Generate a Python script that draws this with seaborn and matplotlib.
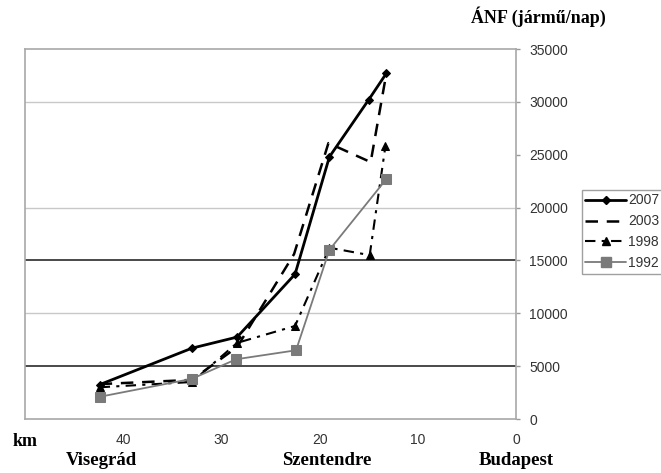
import matplotlib
matplotlib.use("Agg")
import matplotlib.pyplot as plt
import seaborn as sns
import pandas as pd
from matplotlib.lines import Line2D

# ---- data (km from Budapest, ÁNF vehicles/day) ----
km_2007 = [42.4, 33.0, 28.4, 22.5, 19.0, 15.0, 13.2]
anf_2007 = [3250, 6700, 7750, 13700, 24800, 30200, 32700]
km_2003 = [42.4, 33.0, 28.4, 22.6, 19.1, 14.8, 13.2]
anf_2003 = [3300, 3700, 6800, 15600, 26100, 24300, 32700]
km_1998 = [42.4, 33.0, 28.4, 22.5, 19.0, 14.9, 13.3]
anf_1998 = [3000, 3500, 7200, 8800, 16200, 15500, 25800]
km_1992 = [42.4, 33.0, 28.5, 22.4, 19.0, 13.2]
anf_1992 = [2100, 3800, 5650, 6500, 16000, 22700]

years = ["2007", "2003", "1998", "1992"]
x_ticks = [50, 40, 30, 20, 10, 0]
x_labels = ["km", "40", "30", "20", "10", "0"]
y_ticks = [0, 5000, 10000, 15000, 20000, 25000, 30000, 35000]
places = ["Visegrád", "Szentendre", "Budapest"]
place_km = [42.2, 19.3, 0.0]

sns.set_style("white")
plt.rcParams["font.family"] = ["Liberation Sans", "DejaVu Sans"]

fig = plt.figure(figsize=(6.61, 4.73), dpi=100)
ax = fig.add_axes([25 / 661, 1 - 419 / 473, (516 - 25) / 661, (419 - 49) / 473])

# reference lines
for y in [10000, 20000, 30000]:
    ax.axhline(y, color="#c8c8c8", lw=1.0, zorder=1)
for y in [5000, 15000]:
    ax.axhline(y, color="#3a3a3a", lw=1.3, zorder=1)

styles = {
    "2007": dict(color="black", lw=2.0, marker="D", markersize=4.5, linestyle="-"),
    "2003": dict(color="black", lw=1.8, marker=None, linestyle=(0, (5, 3.5))),
    "1998": dict(color="black", lw=1.5, marker="^", markersize=6, linestyle=(0, (5, 3, 1.5, 3))),
    "1992": dict(color="#7a7a7a", lw=1.3, marker="s", markersize=7, linestyle="-"),
}
series = {
    "2007": (km_2007, anf_2007),
    "2003": (km_2003, anf_2003),
    "1998": (km_1998, anf_1998),
    "1992": (km_1992, anf_1992),
}
handles = []
for yr in years:
    xs, ys = series[yr]
    df = pd.DataFrame({"km": xs, "anf": ys})
    st = styles[yr]
    sns.lineplot(data=df, x="km", y="anf", ax=ax, sort=False, zorder=3,
                 color=st["color"], lw=st["lw"], linestyle=st["linestyle"],
                 marker=st["marker"], markersize=st.get("markersize", 0),
                 markeredgecolor=st["color"], markerfacecolor=st["color"])
    handles.append(Line2D([], [], color=st["color"], lw=st["lw"], linestyle=st["linestyle"],
                          marker=st["marker"], markersize=st.get("markersize", 0),
                          markeredgecolor=st["color"], markerfacecolor=st["color"]))

ax.set_xlim(50, 0)
ax.set_ylim(0, 35000)
ax.set_xlabel("")
ax.set_ylabel("")
ax.set_xticks(x_ticks)
ax.set_xticklabels(x_labels)
ax.yaxis.tick_right()
ax.set_yticks(y_ticks)
ax.set_yticklabels([str(v) for v in y_ticks])
ax.tick_params(axis="x", direction="out", length=3, width=1, color="#999999",
               labelsize=10, labelcolor="#333333", pad=7)
ax.tick_params(axis="y", direction="out", length=3, width=1, color="#999999",
               labelsize=10, labelcolor="#333333", pad=6.5)
for lab in ax.get_xticklabels():
    if lab.get_text() == "km":
        lab.set_fontfamily("Liberation Serif")
        lab.set_fontweight("bold")
        lab.set_fontsize(13)
        lab.set_color("black")

for side in ["left", "right", "top", "bottom"]:
    ax.spines[side].set_visible(True)
    ax.spines[side].set_color("#a8a8a8")
    ax.spines[side].set_linewidth(1.2)

# place names
for name, k in zip(places, place_km):
    ax.text(k, -0.111, name, transform=ax.get_xaxis_transform(), ha="center", va="center",
            fontfamily="Liberation Serif", fontweight="bold", fontsize=13.5, color="black")

# axis title
fig.text(538 / 661, 1 - 17 / 473, "ÁNF (jármű/nap)", ha="center", va="center",
         fontfamily="Liberation Serif", fontweight="bold", fontsize=13, color="black")

leg = fig.legend(handles, years, loc="upper left", bbox_to_anchor=(582 / 661, 1 - 190 / 473),
                 frameon=True, fancybox=False, shadow=False, fontsize=10,
                 handlelength=2.9, handletextpad=0.15, borderpad=0.25, labelspacing=0.5,
                 borderaxespad=0)
leg.get_frame().set_edgecolor("#888888")
leg.get_frame().set_linewidth(1.0)
for t in leg.get_texts():
    t.set_color("#333333")

fig.savefig("out.png", dpi=100)
